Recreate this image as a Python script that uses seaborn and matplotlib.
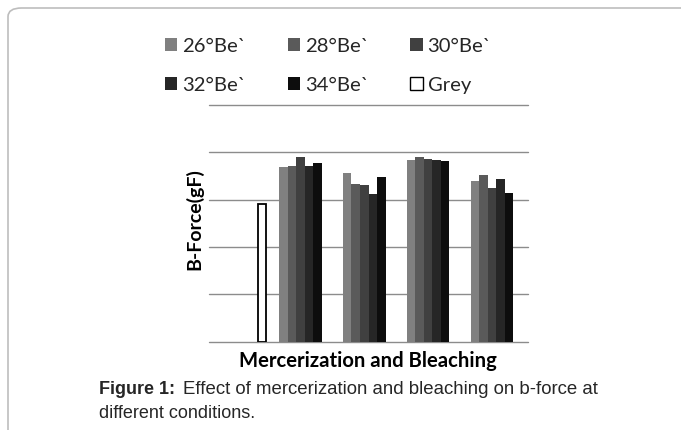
import matplotlib
matplotlib.use("Agg")
import matplotlib.pyplot as plt
import seaborn as sns
import pandas as pd
from matplotlib.patches import FancyBboxPatch, Patch

# ---- data ----
categories = ["Grey", "Set 1", "Set 2", "Set 3", "Set 4"]
series = ["26°Be`", "28°Be`", "30°Be`", "32°Be`", "34°Be`", "Grey"]
grey_value = [2.90]
be26 = [3.69, 3.56, 3.84, 3.40]
be28 = [3.71, 3.33, 3.90, 3.53]
be30 = [3.90, 3.31, 3.86, 3.25]
be32 = [3.71, 3.12, 3.83, 3.43]
be34 = [3.78, 3.47, 3.82, 3.14]
colors = ["#808080", "#5a5a5a", "#404040", "#262626", "#0d0d0d", "#ffffff"]

rows = [(categories[0], "Grey", grey_value[0])]
for name, vals in zip(series[:5], [be26, be28, be30, be32, be34]):
    for cat, v in zip(categories[1:], vals):
        rows.append((cat, name, v))
df = pd.DataFrame(rows, columns=["category", "series", "value"])

sns.set_theme(style="white")
plt.rcParams["font.family"] = ["Lato", "DejaVu Sans"]

W, H = 681, 430
fig = plt.figure(figsize=(W / 100, H / 100), dpi=100)
fig.patch.set_facecolor("white")

ax_l, ax_r, ax_t, ax_b = 209, 528, 105, 341.7
ax = fig.add_axes([ax_l / W, 1 - ax_b / H, (ax_r - ax_l) / W, (ax_b - ax_t) / H])

sns.barplot(data=df, x="category", y="value", hue="series", order=categories,
            hue_order=series, palette=dict(zip(series, colors)), width=0.8,
            gap=0, linewidth=0, saturation=1, ax=ax, legend=False, zorder=3)

for cont, name in zip(ax.containers, series):
    for p in cont.patches:
        if name == "Grey":
            p.set_edgecolor("black")
            p.set_linewidth(1.3)
        else:
            p.set_linewidth(0)

ax.set_ylim(0, 5)
ax.set_yticks([0, 1, 2, 3, 4, 5])
ax.set_xlim(-0.5, len(categories) - 0.5)
ax.yaxis.grid(True, color="#8c8c8c", linewidth=1.0)
for gl in ax.get_ygridlines():
    gl.set_clip_on(False)
ax.set_axisbelow(True)
for s in ax.spines.values():
    s.set_visible(False)
ax.tick_params(left=False, bottom=False, labelleft=False, labelbottom=False)
ax.set_xlabel("")
ax.set_ylabel("")
ax.set_facecolor("none")

# axis titles
fig.text(368 / W, 1 - 361 / H, "Mercerization and Bleaching", ha="center", va="center",
         fontsize=14.6, fontweight="bold", color="black")
fig.text(194.5 / W, 1 - 219.5 / H, "B-Force(gF)", ha="center", va="center", rotation=90,
         fontsize=14.0, fontweight="bold", color="black")

# legend (row-major order displayed via column-major reorder)
handles = [Patch(facecolor=c, edgecolor=("black" if n == "Grey" else c), linewidth=(1.0 if n == "Grey" else 0))
           for n, c in zip(series, colors)]
order = [0, 3, 1, 4, 2, 5]
fig.legend([handles[i] for i in order], [series[i] for i in order], ncol=3,
           loc="upper left", bbox_to_anchor=(165 / W, 1 - 37.5 / H), frameon=False,
           fontsize=14.6, handlelength=0.6, handleheight=0.6, handletextpad=0.25,
           columnspacing=2.05, labelspacing=1.1, borderpad=0, borderaxespad=0)

# caption
cap_fs = 13.0
fig.text(99 / W, 1 - 389 / H, "Figure 1:", ha="left", va="center", fontsize=cap_fs,
         fontweight="bold", family="Liberation Sans")
fig.text(183 / W, 1 - 389 / H, "Effect of mercerization and bleaching on b-force at",
         ha="left", va="center", fontsize=13.4, family="Liberation Sans")
fig.text(99 / W, 1 - 413 / H, "different conditions.", ha="left", va="center",
         fontsize=cap_fs, family="Liberation Sans")

# rounded frame
frame = FancyBboxPatch((8 / W, -0.2), 1.2, 1 - 8 / H + 0.2,
                       boxstyle="round,pad=0,rounding_size=0.02",
                       transform=fig.transFigure, facecolor="none",
                       edgecolor="#bdbdbd", linewidth=1.2, clip_on=False)
fig.patches.append(frame)

fig.savefig("out.png", dpi=100)
